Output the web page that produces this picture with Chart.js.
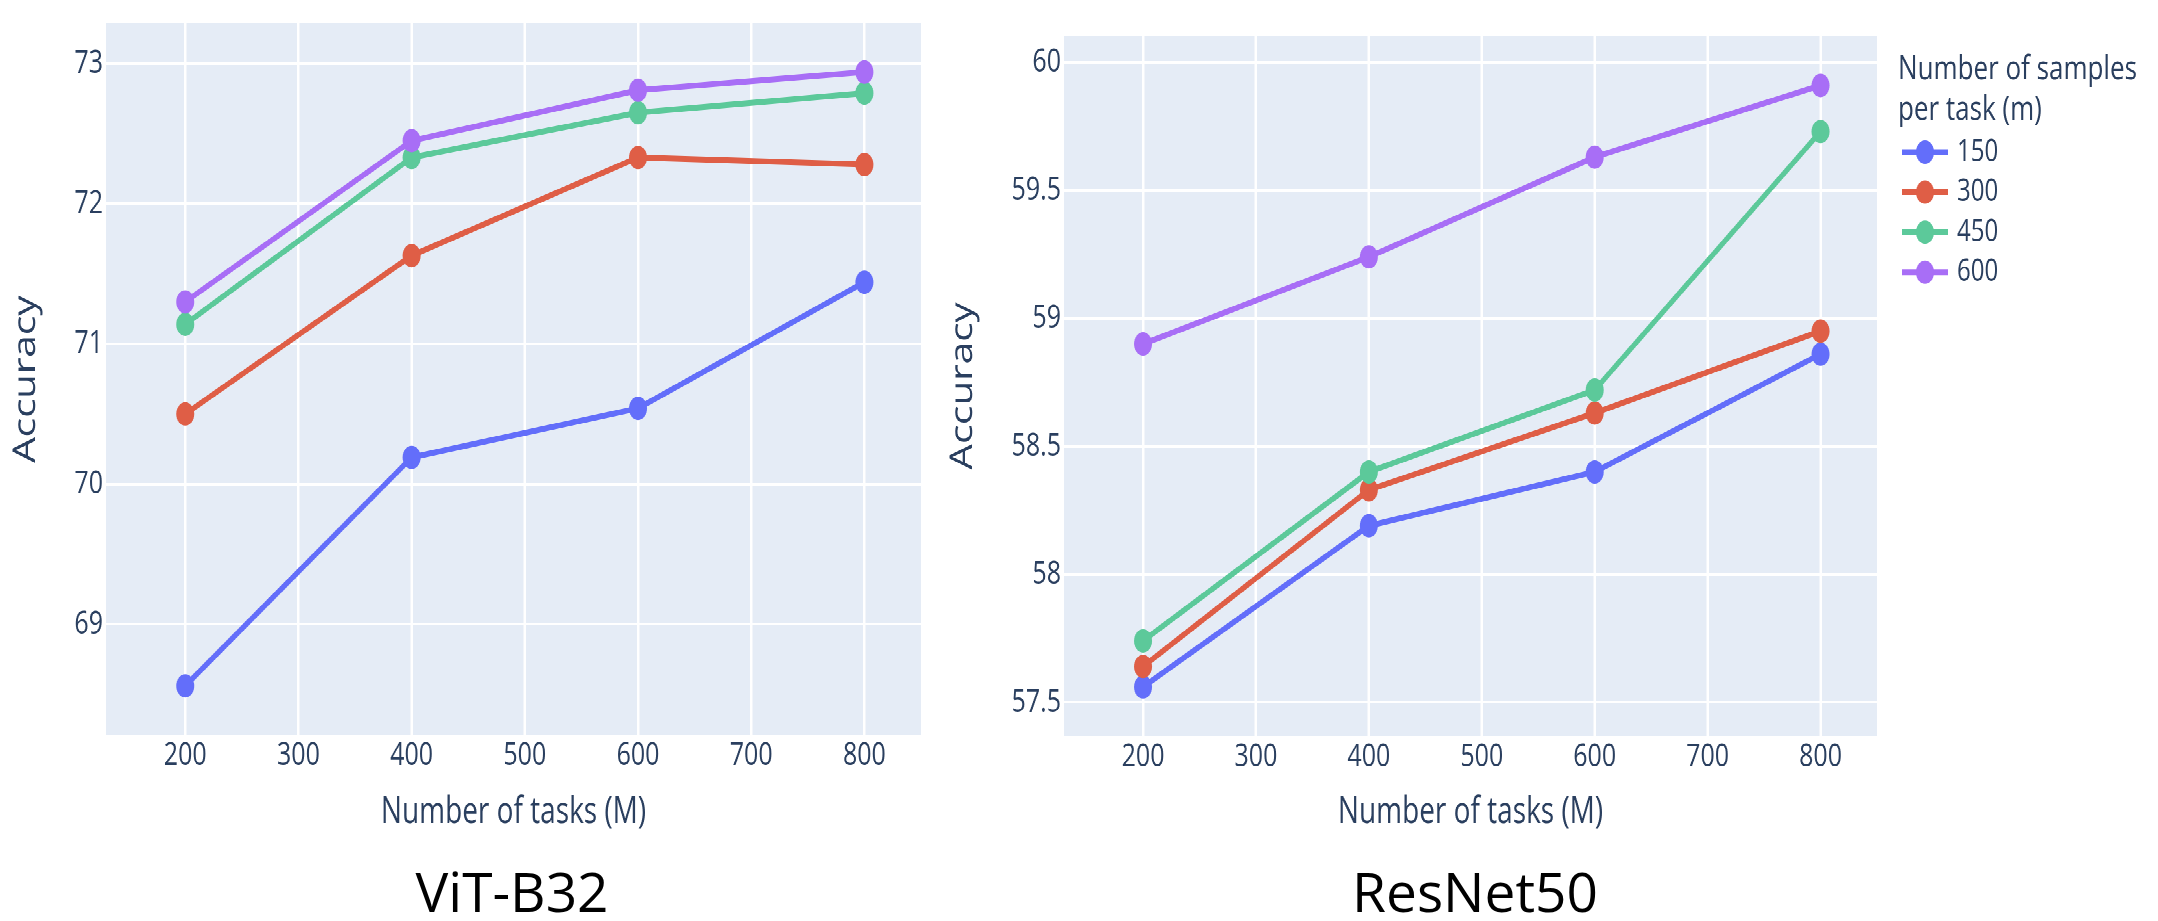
<!DOCTYPE html>
<html>
<head>
<meta charset="utf-8">
<script src="https://cdn.jsdelivr.net/npm/chart.js@4.4.0/dist/chart.umd.min.js"></script>
<style>
  html, body { margin: 0; padding: 0; background: #fff; }
  body { width: 2158px; height: 921px; position: relative; overflow: hidden; }
  /* the reference is a plotly figure stretched vertically, so draw flat and stretch */
  #stretch { position: absolute; left: 0; top: 0; width: 2158px; height: 642px; transform: scaleY(1.3); transform-origin: 0 0; }
  #stretch canvas { position: absolute; top: 0; }
  #leftChart { left: 0; width: 930px; height: 642px; }
  #rightChart { left: 930px; width: 1228px; height: 642px; }
  .caption { position: absolute; top: 863px; font-family: 'Open Sans', sans-serif; font-size: 55px; line-height: 55px; color: #000; transform: translateX(-50%); white-space: nowrap; }
</style>
</head>
<body>
<div id="stretch">
  <canvas id="leftChart" width="930" height="642"></canvas>
  <canvas id="rightChart" width="1228" height="642"></canvas>
</div>
<div class="caption" style="left:512px">ViT-B32</div>
<div class="caption" style="left:1475px">ResNet50</div>

<script>
// Data
const taskCounts = [200, 400, 600, 800];
const sampleSizes = ['150', '300', '450', '600'];
const seriesColors = ['#636efa', '#df5e46', '#5cc99a', '#a86ef6'];

// ViT-B32 accuracy per number of samples per task
const vitAcc150 = [68.56, 70.19, 70.54, 71.44];
const vitAcc300 = [70.50, 71.63, 72.33, 72.28];
const vitAcc450 = [71.14, 72.33, 72.65, 72.79];
const vitAcc600 = [71.30, 72.45, 72.81, 72.94];

// ResNet50 accuracy per number of samples per task
const resAcc150 = [57.56, 58.19, 58.40, 58.86];
const resAcc300 = [57.64, 58.33, 58.63, 58.95];
const resAcc450 = [57.74, 58.40, 58.72, 59.73];
const resAcc600 = [58.90, 59.24, 59.63, 59.91];

const xTicks = [200, 300, 400, 500, 600, 700, 800];
const vitYTicks = [69, 70, 71, 72, 73];
const resYTicks = [57.5, 58, 58.5, 59, 59.5, 60];

const textColor = '#2a3f5f';
const fontFamily = "'Open Sans', sans-serif";

// Plot area background
const plotBackground = {
    id: 'plotBackground',
    beforeDraw(chart) {
        const { ctx, chartArea: a } = chart;
        ctx.save();
        ctx.fillStyle = '#e5ecf6';
        ctx.fillRect(a.left, a.top, a.right - a.left, a.bottom - a.top);
        ctx.restore();
    }
};

// Plotly-like legend with a two line title
const sideLegend = {
    id: 'sideLegend',
    afterDraw(chart, args, opts) {
        if (!opts.display) return;
        const ctx = chart.ctx;
        ctx.save();
        ctx.textAlign = 'left';
        ctx.textBaseline = 'middle';
        ctx.fillStyle = textColor;
        ctx.font = `26px ${fontFamily}`;
        opts.title.forEach((line, i) => ctx.fillText(line, opts.x, opts.titleY + i * opts.titleGap));
        ctx.font = `24px ${fontFamily}`;
        chart.data.datasets.forEach((ds, i) => {
            const y = opts.itemY + i * opts.itemGap;
            ctx.strokeStyle = ds.borderColor;
            ctx.lineWidth = ds.borderWidth;
            ctx.beginPath();
            ctx.moveTo(opts.x + 4, y);
            ctx.lineTo(opts.x + 50, y);
            ctx.stroke();
            ctx.fillStyle = ds.borderColor;
            ctx.beginPath();
            ctx.arc(opts.x + 27, y, ds.pointRadius, 0, Math.PI * 2);
            ctx.fill();
            ctx.fillStyle = textColor;
            ctx.fillText(ds.label, opts.x + 59, y);
        });
        ctx.restore();
    }
};

function buildDatasets(seriesList) {
    return seriesList.map((vals, i) => ({
        label: sampleSizes[i],
        data: taskCounts.map((x, j) => ({ x: x, y: vals[j] })),
        borderColor: seriesColors[i],
        backgroundColor: seriesColors[i],
        pointBackgroundColor: seriesColors[i],
        borderWidth: 4.5,
        pointRadius: 9,
        pointHoverRadius: 9,
        pointBorderWidth: 0,
        tension: 0,
        order: seriesList.length - i
    }));
}

function makeChart(canvasId, seriesList, yRange, yTicks, box, legendOpts) {
    return new Chart(document.getElementById(canvasId), {
        type: 'line',
        data: { datasets: buildDatasets(seriesList) },
        plugins: [plotBackground, sideLegend],
        options: {
            responsive: false,
            animation: false,
            devicePixelRatio: 2,
            layout: { padding: { top: box.top, right: box.right, bottom: 0, left: 0 } },
            plugins: {
                legend: { display: false },
                tooltip: { enabled: false },
                sideLegend: legendOpts
            },
            scales: {
                x: {
                    type: 'linear',
                    min: 130,
                    max: 850,
                    afterBuildTicks: s => { s.ticks = xTicks.map(v => ({ value: v })); },
                    afterFit: s => { s.height = box.xAxisHeight; },
                    grid: { color: '#ffffff', lineWidth: 2.5, drawTicks: false },
                    border: { display: false },
                    ticks: { color: textColor, font: { family: fontFamily, size: 25 }, padding: 1, maxRotation: 0, autoSkip: false },
                    title: { display: true, text: 'Number of tasks (M)', color: textColor, font: { family: fontFamily, size: 28 }, padding: { top: 0, bottom: 0 } }
                },
                y: {
                    min: yRange[0],
                    max: yRange[1],
                    afterBuildTicks: s => { s.ticks = yTicks.map(v => ({ value: v })); },
                    afterFit: s => { s.width = box.yAxisWidth; },
                    grid: { color: '#ffffff', lineWidth: 2, drawTicks: false },
                    border: { display: false },
                    ticks: { color: textColor, font: { family: fontFamily, size: 25 }, padding: 3, callback: v => String(v) },
                    title: { display: true, text: 'Accuracy', color: textColor, font: { family: fontFamily, size: 31 }, padding: { top: box.yTitlePad, bottom: 0 } }
                }
            }
        }
    });
}

makeChart('leftChart', [vitAcc150, vitAcc300, vitAcc450, vitAcc600], [68.209, 73.287], vitYTicks,
    { top: 16.9, right: 6, xAxisHeight: 76.6, yAxisWidth: 106, yTitlePad: 7.4 },
    { display: false });

makeChart('rightChart', [resAcc150, resAcc300, resAcc450, resAcc600], [57.368, 60.103], resYTicks,
    { top: 27.7, right: 281, xAxisHeight: 75.8, yAxisWidth: 134, yTitlePad: 14.4 },
    { display: true, title: ['Number of samples', 'per task (m)'], x: 968, titleY: 53.8, titleGap: 30.8, itemY: 117, itemGap: 30.8 });
</script>
</body>
</html>
